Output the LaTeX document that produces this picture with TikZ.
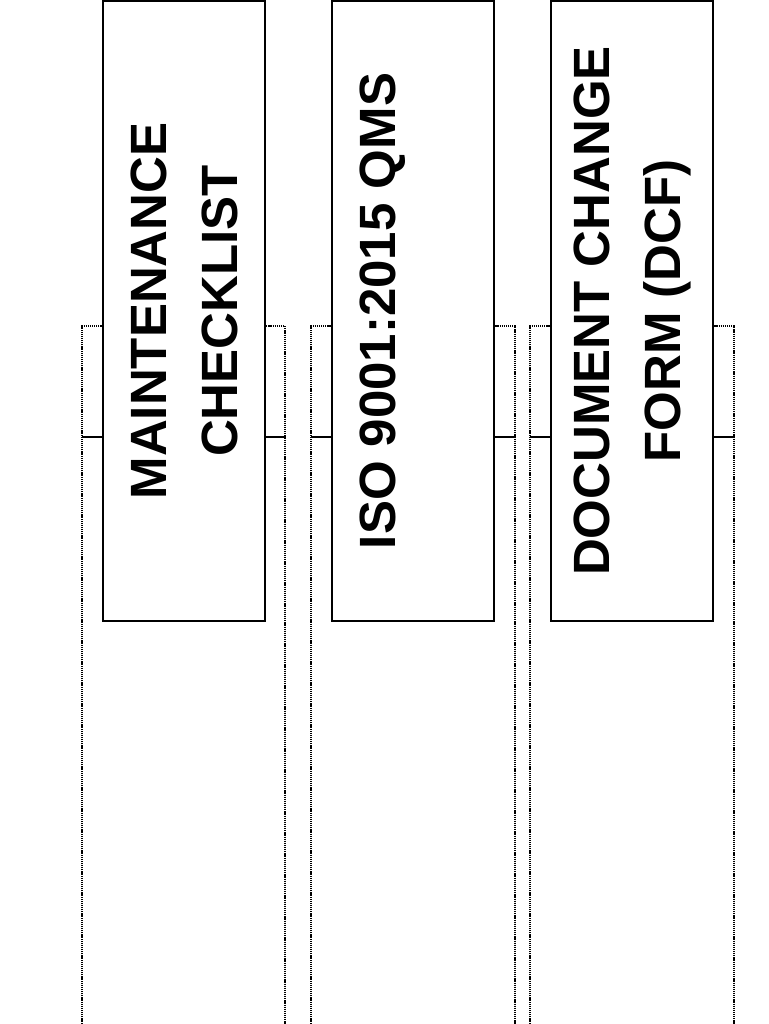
\documentclass[tikz,border=0pt]{standalone}
\usepackage{fontspec}
\setmainfont{Liberation Sans}
\usetikzlibrary{positioning,calc}

\tikzset{
  formbox/.style={draw=black, line width=2.2pt, fill=white, rotate=90,
    minimum width=620pt, minimum height=162pt, inner sep=0pt, align=center,
    font=\fontsize{51}{71}\selectfont\bfseries},
  lane/.style={black, line width=1.1pt, dash pattern=on 1.2pt off 0.9pt},
}

\begin{document}
\begin{tikzpicture}[x=1pt,y=-1pt]
\useasboundingbox (0,0) rectangle (768,1024);
\clip (0,0) rectangle (768,1024);

% Draw dotted lanes with their divider line
\foreach \l/\r in {82/285, 311/515, 530/734} {
    \draw[lane] (\l,1030) -- (\l,326) -- (\r,326) -- (\r,1030);
    \draw[black, line width=1.2pt] (\l,437) -- (\r,437);
}

% Draw the document boxes
\node[formbox] (maint) at (184,311) {MAINTENANCE\\CHECKLIST};
\node[formbox] (iso) at (413,311) {ISO 9001:2015 QMS\\\mbox{}};
\node[formbox] (dcf) at (632,311) {DOCUMENT CHANGE\\FORM (DCF)};

\end{tikzpicture}
\end{document}
